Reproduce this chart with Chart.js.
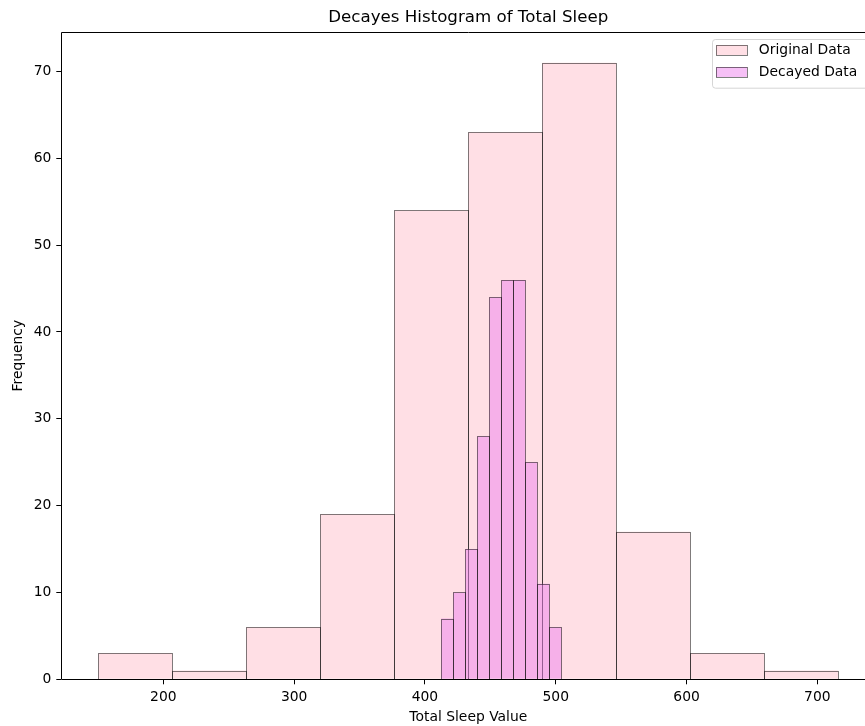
<!DOCTYPE html>
<html>
<head>
<meta charset="utf-8">
<script src="https://cdn.jsdelivr.net/npm/chart.js@4.4.1/dist/chart.umd.min.js"></script>
<style>
  html, body { margin: 0; padding: 0; overflow: hidden; background: #fff; width: 865px; height: 726px; }
  #wrap { position: absolute; left: 0; top: 0; width: 900px; height: 726px; }
</style>
</head>
<body>
<div id="wrap"><canvas id="c" width="900" height="726"></canvas></div>
<script>
// Histogram bins (bin edges) and counts for the two series
const origEdges  = [150.3, 206.87, 263.44, 320.01, 376.58, 433.15, 489.72, 546.29, 602.86, 659.43, 716.0];
const origCounts = [3, 1, 6, 19, 54, 63, 71, 17, 3, 1];
const decayEdges  = [412.4, 421.6, 430.8, 440.0, 449.2, 458.4, 467.6, 476.8, 486.0, 495.2, 504.4];
const decayCounts = [7, 10, 15, 28, 44, 46, 46, 25, 11, 6];

// Axis ticks and limits
const xTickValues = [200, 300, 400, 500, 600, 700];
const yTickValues = [0, 10, 20, 30, 40, 50, 60, 70];
const xLimits = [122.0, 744.3];
const yLimits = [0, 74.55];

const FONT = 'DejaVu Sans';
const SMALL = 13.89;
const EDGE = 'rgba(0,0,0,0.5)';

function binPoints(edges, counts) {
  return counts.map((c, i) => ({ x: (edges[i] + edges[i + 1]) / 2, y: c }));
}

Chart.defaults.font.family = FONT;
Chart.defaults.color = '#000';

// Crisp 1px outlines around each bar, stroked right after its dataset is filled
const barEdges = {
  id: 'barEdges',
  afterDatasetDraw(chart, args) {
    const { ctx } = chart;
    const ds = chart.data.datasets[args.index];
    ctx.save();
    ctx.beginPath();
    ctx.rect(chart.chartArea.left, chart.chartArea.top, chart.chartArea.width, chart.chartArea.height + 1);
    ctx.clip();
    ctx.strokeStyle = ds.edgeColor;
    ctx.lineWidth = 1;
    args.meta.data.forEach(el => {
      const p = el.getProps(['x', 'y', 'base', 'width'], true);
      const l = Math.round(p.x - p.width / 2), r = Math.round(p.x + p.width / 2);
      const t = Math.round(p.y), b = Math.round(p.base);
      ctx.strokeRect(l + 0.5, t + 0.5, r - l, b - t);
    });
    ctx.restore();
  }
};

// Axes frame (spines) drawn over the bars
const frame = {
  id: 'frame',
  afterDatasetsDraw(chart) {
    const { ctx, chartArea: a } = chart;
    ctx.save();
    ctx.strokeStyle = '#000';
    ctx.lineWidth = 1;
    const l = Math.round(a.left) + 0.5, r = Math.round(a.right) + 0.5;
    const t = Math.round(a.top) + 0.5, b = Math.round(a.bottom) + 0.5;
    ctx.beginPath();
    ctx.rect(l, t, r - l, b - t);
    ctx.stroke();
    ctx.restore();
  }
};

// Boxed legend in the upper right corner of the plot area
const boxLegend = {
  id: 'boxLegend',
  afterDatasetsDraw(chart) {
    const { ctx, chartArea: a } = chart;
    ctx.save();
    ctx.font = SMALL + 'px "' + FONT + '"';
    const items = chart.data.datasets.map(d => ({ label: d.label, bg: d.backgroundColor, bc: d.edgeColor }));
    const textW = Math.max(...items.map(it => ctx.measureText(it.label).width));
    const padL = 3.3, sw = 30.7, sh = 9.7, gap = 12.6, padR = 11;
    const w = padL + sw + gap + textW + padR;
    const h = 48.7;
    const right = a.right - 7;
    const top = a.top + 7;
    const left = right - w;
    ctx.beginPath();
    ctx.roundRect(Math.round(left) + 0.5, Math.round(top) + 0.5, w, h, 3);
    ctx.fillStyle = 'rgba(255,255,255,0.8)';
    ctx.fill();
    ctx.strokeStyle = 'rgba(204,204,204,0.8)';
    ctx.lineWidth = 1;
    ctx.stroke();
    items.forEach((it, i) => {
      const cy = top + 11 + i * 22.3;
      const sx = Math.round(left + padL);
      const sy = Math.round(cy - sh / 2);
      ctx.fillStyle = it.bg;
      ctx.fillRect(sx, sy, Math.round(sw), Math.round(sh));
      ctx.strokeStyle = it.bc;
      ctx.strokeRect(sx + 0.5, sy + 0.5, Math.round(sw), Math.round(sh));
      ctx.fillStyle = '#000';
      ctx.textBaseline = 'middle';
      ctx.textAlign = 'left';
      ctx.fillText(it.label, left + padL + sw + gap, cy);
    });
    ctx.restore();
  }
};

const tickFont = { family: FONT, size: SMALL };

new Chart(document.getElementById('c'), {
  type: 'bar',
  data: {
    datasets: [
      {
        label: 'Original Data',
        data: binPoints(origEdges, origCounts),
        xAxisID: 'x',
        backgroundColor: 'rgba(255,192,203,0.5)',
        edgeColor: EDGE,
        borderWidth: 0,
        order: 2
      },
      {
        label: 'Decayed Data',
        data: binPoints(decayEdges, decayCounts),
        xAxisID: 'x2',
        backgroundColor: 'rgba(238,130,238,0.5)',
        edgeColor: EDGE,
        borderWidth: 0,
        order: 1
      }
    ]
  },
  options: {
    responsive: false,
    devicePixelRatio: 1,
    animation: false,
    grouped: false,
    categoryPercentage: 1,
    barPercentage: 1,
    inflateAmount: 0,
    layout: { padding: { left: 0, right: 24.7, top: 0, bottom: 0 } },
    plugins: {
      legend: { display: false },
      tooltip: { enabled: false },
      title: {
        display: true,
        fullSize: false,
        text: 'Decayes Histogram of Total Sleep',
        color: '#000',
        font: { family: FONT, size: 16.67, weight: 'normal' },
        padding: { top: 7.4, bottom: 4.6 }
      }
    },
    scales: {
      x: {
        type: 'linear',
        position: 'bottom',
        min: xLimits[0],
        max: xLimits[1],
        offset: false,
        afterBuildTicks: s => { s.ticks = xTickValues.map(v => ({ value: v })); },
        afterFit: s => { s.height = 46.7; },
        ticks: { font: tickFont, color: '#000', padding: 4.4, maxRotation: 0, autoSkip: false },
        grid: { display: true, drawOnChartArea: false, drawTicks: true, tickLength: 5, color: '#000', lineWidth: 1, offset: false },
        border: { display: false },
        title: { display: true, text: 'Total Sleep Value', color: '#000', font: tickFont, padding: { top: 0, bottom: 0.3 } }
      },
      x2: {
        type: 'linear',
        position: 'bottom',
        display: false,
        min: xLimits[0],
        max: xLimits[1],
        offset: false,
        afterBuildTicks: s => { s.ticks = xTickValues.map(v => ({ value: v })); }
      },
      y: {
        type: 'linear',
        position: 'left',
        min: yLimits[0],
        max: yLimits[1],
        afterBuildTicks: s => { s.ticks = yTickValues.map(v => ({ value: v })); },
        afterFit: s => { s.width = 61.3; },
        ticks: { font: tickFont, color: '#000', padding: 5, autoSkip: false },
        grid: { display: true, drawOnChartArea: false, drawTicks: true, tickLength: 5, color: '#000', lineWidth: 1 },
        border: { display: false },
        title: { display: true, text: 'Frequency', color: '#000', font: tickFont, padding: { top: 10, bottom: 0 } }
      }
    }
  },
  plugins: [barEdges, frame, boxLegend]
});
</script>
</body>
</html>
